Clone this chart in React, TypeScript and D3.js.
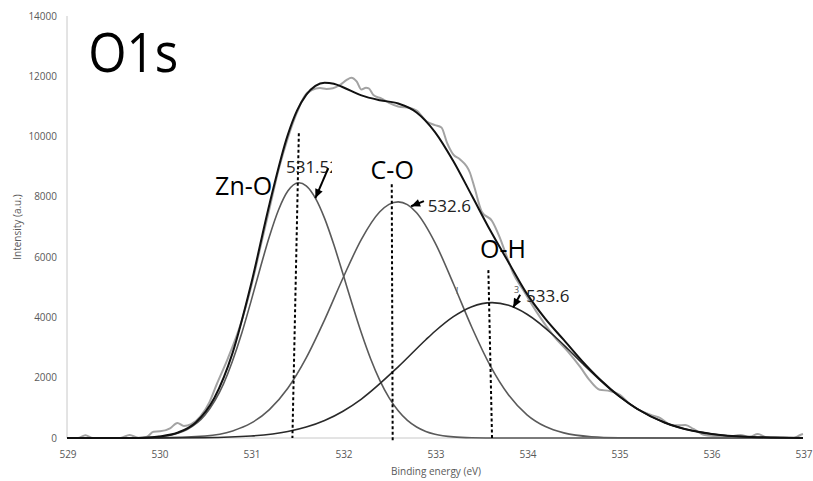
import React from "react";
import * as d3 from "d3";

// O1s XPS spectrum: binding energy (eV) vs intensity (a.u.)
const energyTicks = [529, 530, 531, 532, 533, 534, 535, 536, 537];
const intensityTicks = [0, 2000, 4000, 6000, 8000, 10000, 12000, 14000];

// measured spectrum
const rawEnergy = [529.0, 529.12, 529.2, 529.28, 529.58, 529.68, 529.78, 529.87, 529.94, 530.01, 530.12, 530.2, 530.27, 530.35, 530.45, 530.55, 530.63, 530.75, 530.9, 531.0, 531.1, 531.2, 531.3, 531.4, 531.5, 531.59, 531.66, 531.75, 531.82, 531.89, 531.97, 532.04, 532.09, 532.15, 532.2, 532.25, 532.28, 532.33, 532.42, 532.5, 532.6, 532.73, 532.8, 532.91, 533.0, 533.07, 533.13, 533.2, 533.27, 533.38, 533.43, 533.51, 533.62, 533.7, 533.78, 533.85, 533.96, 534.1, 534.3, 534.45, 534.58, 534.68, 534.79, 534.9, 535.01, 535.12, 535.25, 535.37, 535.45, 535.55, 535.63, 535.72, 535.81, 535.92, 536.05, 536.17, 536.32, 536.42, 536.51, 536.6, 536.75, 536.9, 536.97, 537.0];
const rawIntensity = [0, 0, 95, 0, 0, 100, 0, 40, 210, 220, 320, 500, 400, 460, 720, 1200, 1800, 2650, 3900, 5000, 6300, 7600, 8900, 9950, 10800, 11380, 11540, 11610, 11580, 11600, 11720, 11880, 11950, 11820, 11560, 11620, 11600, 11380, 11260, 11120, 11000, 10950, 10860, 10500, 10380, 10300, 9800, 9400, 9250, 8800, 8300, 7500, 7200, 6680, 6020, 5460, 4900, 4200, 3350, 2850, 2350, 1920, 1600, 1560, 1430, 1120, 880, 740, 660, 450, 420, 430, 300, 110, 60, 40, 100, 40, 130, 25, 10, 0, 100, 130];

// fitted envelope
const envEnergy = [529.0, 529.7, 529.85, 530.0, 530.2, 530.4, 530.6, 530.8, 531.0, 531.2, 531.4, 531.5, 531.6, 531.7, 531.8, 531.9, 532.0, 532.2, 532.4, 532.6, 532.8, 533.0, 533.2, 533.4, 533.6, 533.8, 534.0, 534.2, 534.4, 534.6, 534.8, 535.0, 535.2, 535.5, 535.8, 536.1, 536.5, 537.0];
const envIntensity = [0, 0, 10, 50, 174, 516, 1317, 2823, 5090, 7748, 10058, 10860, 11386, 11682, 11788, 11752, 11636, 11365, 11206, 11097, 10801, 10150, 9181, 8042, 6890, 5826, 4780, 3950, 3254, 2551, 1925, 1395, 962, 506, 239, 101, 27, 4];

// Zn-O component
const znoEnergy = [529.0, 529.6, 529.9, 530.1, 530.3, 530.5, 530.7, 530.9, 531.0, 531.1, 531.2, 531.3, 531.4, 531.52, 531.6, 531.7, 531.8, 531.9, 532.0, 532.1, 532.2, 532.3, 532.4, 532.5, 532.6, 532.7, 532.8, 532.9, 533.0, 533.2, 533.4, 533.7, 537.0];
const znoIntensity = [0, 0, 20, 80, 271, 764, 1789, 3482, 4533, 5633, 6684, 7573, 8193, 8470, 8366, 7958, 7286, 6417, 5438, 4437, 3482, 2630, 1912, 1338, 900, 582, 363, 218, 126, 37, 10, 0, 0];

// C-O component
const coEnergy = [529.0, 530.0, 530.5, 530.8, 531.0, 531.2, 531.4, 531.6, 531.8, 532.0, 532.2, 532.4, 532.5, 532.6, 532.7, 532.8, 533.0, 533.2, 533.4, 533.6, 533.8, 534.0, 534.2, 534.4, 534.7, 535.0, 535.5, 537.0];
const coIntensity = [0, 5, 66, 236, 492, 943, 1651, 2658, 3921, 5309, 6590, 7504, 7751, 7835, 7742, 7473, 6483, 5117, 3674, 2400, 1425, 770, 379, 170, 42, 9, 0, 0];

// O-H component
const ohEnergy = [529.0, 530.0, 530.5, 531.0, 531.4, 531.6, 531.8, 532.0, 532.2, 532.6, 532.9, 533.0, 533.2, 533.4, 533.62, 533.8, 534.0, 534.3, 534.45, 534.6, 534.9, 535.05, 535.2, 535.5, 535.8, 536.1, 536.5, 537.0];
const ohIntensity = [0, 3, 11, 65, 214, 362, 581, 889, 1293, 2362, 3260, 3541, 4027, 4358, 4490, 4401, 4107, 3375, 2935, 2482, 1633, 1271, 962, 506, 239, 101, 27, 4];

// peak-position markers: [energy at top, intensity at top, energy at bottom, intensity at bottom]
const markerNames = ["Zn-O", "C-O", "O-H"];
const markerTop = [[531.52, 10110], [532.53, 8420], [533.58, 5570]];
const markerBottom = [[531.45, 0], [532.54, -100], [533.62, 0]];

// component names and their positions (left edge, baseline)
const labelText = ["Zn-O", "C-O", "O-H"];
const labelPos = [[530.61, 8058], [532.3, 8588], [533.49, 5969]];

// peak-value callouts: text, text anchor, arrow tail, arrow tip
const valueText = ["531.52", "532.6", "533.6"];
const valuePos = [[531.38, 8787], [532.92, 7494], [533.99, 4510]];
const arrowFrom = [[531.84, 8953], [532.88, 7860], [533.925, 4750]];
const arrowTo = [[531.7, 7960], [532.74, 7690], [533.85, 4330]];

const W = 813;
const H = 481;
const FONT = "'Open Sans', 'Liberation Sans', sans-serif";

export default function App() {
  const x = d3.scaleLinear().domain([529, 537]).range([67, 803]);
  const y = d3.scaleLinear().domain([0, 14000]).range([438, 16]);

  const smooth = (xs: number[], ys: number[]) =>
    d3
      .line<number>()
      .x((_, i) => x(xs[i]))
      .y((_, i) => y(ys[i]))
      .curve(d3.curveMonotoneX)(xs.map((_, i) => i)) || "";

  const rawPath = smooth(rawEnergy, rawIntensity);
  const envPath = smooth(envEnergy, envIntensity);
  const znoPath = smooth(znoEnergy, znoIntensity);
  const coPath = smooth(coEnergy, coIntensity);
  const ohPath = smooth(ohEnergy, ohIntensity);

  const arrowHead = (fx: number, fy: number, tx: number, ty: number) => {
    const a = Math.atan2(ty - fy, tx - fx);
    const len = 9;
    const half = 4;
    const bx = tx - len * Math.cos(a);
    const by = ty - len * Math.sin(a);
    const px = -Math.sin(a);
    const py = Math.cos(a);
    return `M${tx},${ty}L${bx + px * half},${by + py * half}L${bx - px * half},${by - py * half}Z`;
  };

  return (
    <svg
      width={W}
      height={H}
      style={{ position: "absolute", left: 0, top: 0, background: "#fff" }}
      fontFamily={FONT}
    >
      <defs>
        <clipPath id="cut-value">
          <rect x={0} y={0} width={x(531.38) + 46} height={H} />
        </clipPath>
      </defs>

      {/* axis lines */}
      <line x1={x(529)} x2={x(529)} y1={y(14000)} y2={y(0)} stroke="#c8c8c8" strokeWidth={1} />
      <line x1={x(529)} x2={x(537)} y1={y(0)} y2={y(0)} stroke="#c8c8c8" strokeWidth={1} />

      {/* tick labels */}
      {intensityTicks.map((t) => (
        <text key={`y${t}`} x={57} y={y(t)} dy="0.35em" textAnchor="end" fontSize={10} fill="#595959">
          {t}
        </text>
      ))}
      {energyTicks.map((t) => (
        <text key={`x${t}`} x={x(t) + 1} y={458} textAnchor="middle" fontSize={10} fill="#595959">
          {t}
        </text>
      ))}

      {/* axis titles */}
      <text x={436} y={475} textAnchor="middle" fontSize={10} fill="#595959">
        Binding energy (eV)
      </text>
      <text
        transform={`translate(21,${227}) rotate(-90)`}
        textAnchor="middle"
        fontSize={10}
        fill="#595959"
      >
        Intensity (a.u.)
      </text>

      {/* spectrum and fit */}
      <path d={rawPath} fill="none" stroke="#a3a3a3" strokeWidth={2} />
      <path d={znoPath} fill="none" stroke="#5a5a5a" strokeWidth={1.6} />
      <path d={coPath} fill="none" stroke="#5a5a5a" strokeWidth={1.6} />
      <path d={ohPath} fill="none" stroke="#2a2a2a" strokeWidth={1.6} />
      <path d={envPath} fill="none" stroke="#111" strokeWidth={2} />

      {/* peak markers */}
      {markerNames.map((n, i) => (
        <line
          key={`m${n}`}
          x1={x(markerTop[i][0])}
          y1={y(markerTop[i][1])}
          x2={x(markerBottom[i][0])}
          y2={y(markerBottom[i][1])}
          stroke="#000"
          strokeWidth={2}
          strokeDasharray="3,2.5"
        />
      ))}

      {/* component names */}
      {labelText.map((t, i) => (
        <text key={`l${t}`} x={x(labelPos[i][0])} y={y(labelPos[i][1])} fontSize={25} fill="#000">
          {t}
        </text>
      ))}

      {/* peak values with arrows */}
      {valueText.map((t, i) => (
        <text
          key={`v${t}`}
          x={x(valuePos[i][0])}
          y={y(valuePos[i][1])}
          fontSize={17}
          fill="#222"
          clipPath={i === 0 ? "url(#cut-value)" : undefined}
        >
          {t}
        </text>
      ))}
      {arrowFrom.map((f, i) => {
        const fx = x(f[0]);
        const fy = y(f[1]);
        const tx = x(arrowTo[i][0]);
        const ty = y(arrowTo[i][1]);
        return (
          <g key={`a${i}`}>
            <line x1={fx} y1={fy} x2={tx} y2={ty} stroke="#000" strokeWidth={2} />
            <path d={arrowHead(fx, fy, tx, ty)} fill="#000" />
          </g>
        );
      })}

      {/* clipped remnants of callout text */}
      <text x={456} y={294} fontSize={9} fill="#555">!</text>
      <text x={514} y={293} fontSize={9} fill="#555">3</text>

      {/* spectrum title */}
      <text x={x(529.23)} y={y(12137)} fontSize={55} fill="#000" textLength={90} lengthAdjust="spacingAndGlyphs">
        O1s
      </text>
    </svg>
  );
}
